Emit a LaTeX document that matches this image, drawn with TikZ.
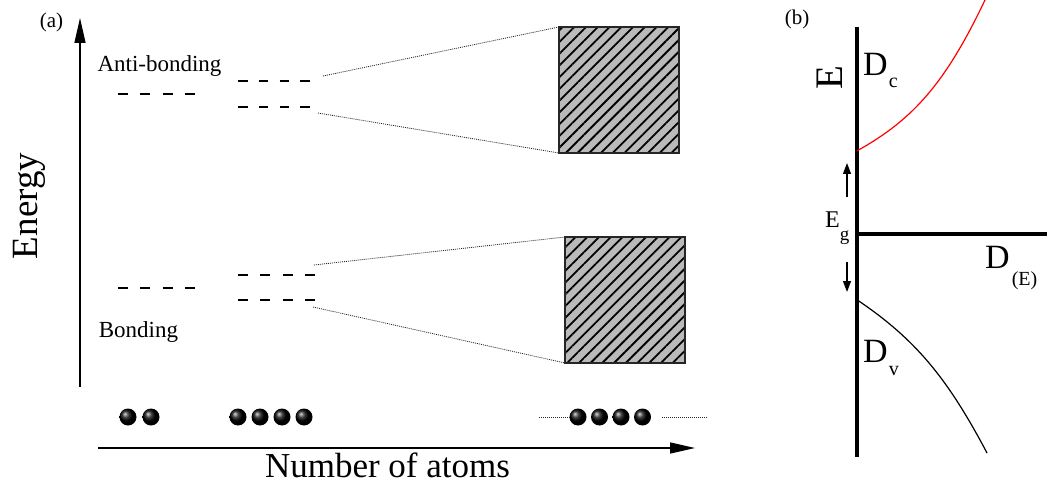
\documentclass[tikz,border=0pt]{standalone}
\usepackage{fontspec}
\setmainfont{Liberation Serif}
\usetikzlibrary{arrows.meta,patterns.meta}
\begin{document}
\begin{tikzpicture}[x=1pt,y=-1pt,
  lvl/.style={line width=1.3pt, dash pattern=on 10pt off 12.3pt},
  lvlb/.style={line width=1.3pt, dash pattern=on 9.5pt off 11.3pt},
  fan/.style={line width=0.8pt, black!85, dash pattern=on 1pt off 1pt},
  band/.style={draw=black!85, line width=1.2pt, minimum width=120pt, minimum height=126pt, inner sep=0pt, outer sep=0pt,
    preaction={fill=black!27}, pattern={Lines[angle=45,distance=8.3pt,line width=1.8pt]}, pattern color=black},
  atom/.style={circle, inner sep=0pt, minimum size=17pt, shading=ball, ball color=black},
  axisline/.style={line width=1.5pt, -{Triangle[length=25pt,width=11pt]}},
  txt/.style={inner sep=0pt, anchor=base},
  txtw/.style={inner sep=0pt, anchor=base west},
  bline/.style={line width=3.5pt},
  egarrow/.style={line width=1.2pt, -{Triangle[length=11pt,width=8pt]}},
  curve/.style={line width=1.2pt}
]
\useasboundingbox (0,0) rectangle (1047,484);

% ---------- panel (a) ----------
\node[txt,font=\fontsize{21}{21}\selectfont] (la) at (51.5,28) {(a)};
\node[txt,font=\fontsize{37}{37}\selectfont,rotate=90] (energy) at (37,206) {Energy};
\node[txt,font=\fontsize{23}{23}\selectfont] (anti) at (159.5,72) {Anti-bonding};
\node[txt,font=\fontsize{23}{23}\selectfont] (bond) at (138.5,337) {Bonding};
\node[txt,font=\fontsize{35}{35}\selectfont] (natoms) at (387.5,477) {Number of atoms};

% axes
\coordinate (eb) at (80,387);
\coordinate (et) at (80,18);
\draw[axisline] (eb) -- (et);
\coordinate (nl) at (98,448);
\coordinate (nr) at (695,448);
\draw[axisline] (nl) -- (nr);

% energy levels
\coordinate (a1l) at (118,94);  \coordinate (a1r) at (195,94);
\coordinate (a2l) at (238,81);  \coordinate (a2r) at (310,81);
\coordinate (a3l) at (238,107); \coordinate (a3r) at (310,107);
\draw[lvl] (a1l) -- (a1r);
\draw[lvlb] (a2l) -- (a2r);
\draw[lvlb] (a3l) -- (a3r);
\coordinate (b1l) at (118,288); \coordinate (b1r) at (195,288);
\coordinate (b2l) at (238,275); \coordinate (b2r) at (315,275);
\coordinate (b3l) at (238,300); \coordinate (b3r) at (315,300);
\draw[lvl] (b1l) -- (b1r);
\draw[lvl] (b2l) -- (b2r);
\draw[lvl] (b3l) -- (b3r);

% bands
\node[band] (bt) at (619,90) {};
\node[band] (bb) at (625,300) {};
\coordinate (ft1) at (323,76);
\coordinate (ft2) at (318,113);
\coordinate (fb1) at (314,265);
\coordinate (fb2) at (313,307);
\draw[fan] (ft1) -- (bt.north west);
\draw[fan] (ft2) -- (bt.south west);
\draw[fan] (fb1) -- (bb.north west);
\draw[fan] (fb2) -- (bb.south west);

% atoms
\node[atom] (p1) at (128,417) {};
\node[atom] (p2) at (151,417) {};
\node[atom] (q1) at (238,417) {};
\node[atom] (q2) at (260,417) {};
\node[atom] (q3) at (282,417) {};
\node[atom] (q4) at (304,417) {};
\node[atom] (c1) at (578,417) {};
\node[atom] (c2) at (599.5,417) {};
\node[atom] (c3) at (621,417) {};
\node[atom] (c4) at (642.5,417) {};
\coordinate (dl) at (539,417);
\coordinate (dr1) at (662,417);
\coordinate (dr2) at (707,417);
\draw[fan] (dl) -- (c1.west);
\draw[fan] (dr1) -- (dr2);

% ---------- panel (b) ----------
\node[txt,font=\fontsize{21}{21}\selectfont] (lb) at (797,25) {(b)};
\coordinate (vt) at (857,27);
\coordinate (vb) at (857,457);
\coordinate (h0) at (857,234);
\coordinate (h1) at (1047,234);
\draw[bline] (vt) -- (vb);
\draw[bline] (h0) -- (h1);

\begin{scope}
\clip (0,0) rectangle (1047,484);
\draw[curve,red] (857.3,150.7) .. controls (914,119.2) and (946,81.9) .. (985,0) -- (990,-10);
\end{scope}
\draw[curve] (857.3,300) .. controls (914.3,338.4) and (946.8,376.7) .. (987,453);

\node[txt,font=\fontsize{39}{39}\selectfont,rotate=90] (eaxis) at (842,77.5) {E};
\node[txtw,font=\fontsize{34}{34}\selectfont] (dc) at (863,76) {D\kern1pt\raisebox{-12pt}{\fontsize{20}{20}\selectfont c}};
\node[txtw,font=\fontsize{34}{34}\selectfont] (dv) at (863,362) {D\kern1pt\raisebox{-13pt}{\fontsize{20}{20}\selectfont v}};
\node[txtw,font=\fontsize{34}{34}\selectfont] (de) at (985,268) {D\kern2pt\raisebox{-17pt}{\fontsize{20}{20}\selectfont (E)}};
\node[txtw,font=\fontsize{24}{24}\selectfont] (eg) at (825,227) {E\raisebox{-13pt}{\fontsize{19}{19}\selectfont g}};

\coordinate (gu0) at (847,197);
\coordinate (gu1) at (847,163);
\coordinate (gd0) at (847,262);
\coordinate (gd1) at (847,292);
\draw[egarrow] (gu0) -- (gu1);
\draw[egarrow] (gd0) -- (gd1);
\end{tikzpicture}
\end{document}
